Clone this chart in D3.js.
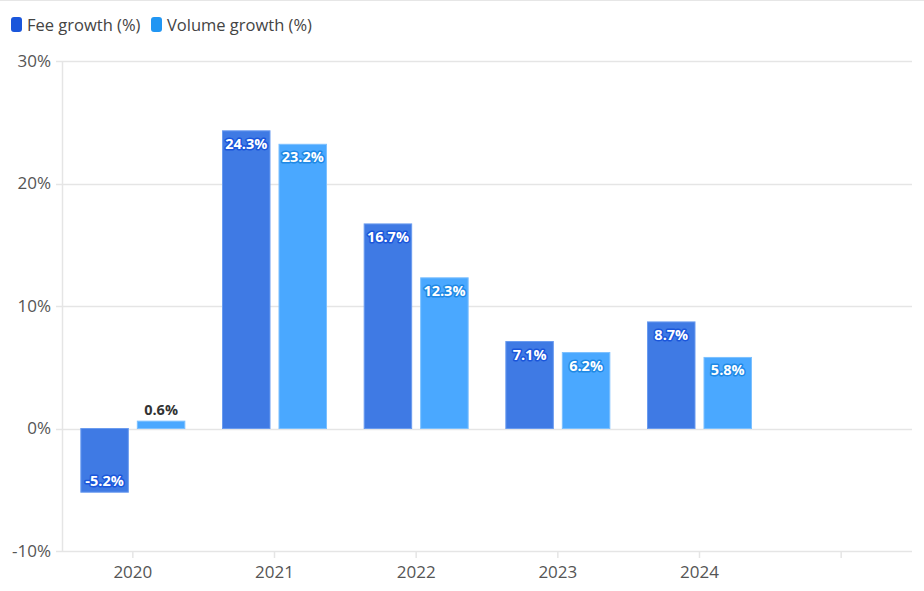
<!DOCTYPE html>
<html><head><meta charset="utf-8">
<script src="https://cdn.jsdelivr.net/npm/d3@7"></script>
<style>
body{margin:0;background:#fff;font-family:"Open Sans","Noto Sans",sans-serif;}
</style></head>
<body><svg id="c" width="924" height="591"></svg>
<script>
const categories = ["2020","2021","2022","2023","2024",""];
const seriesNames = ["Fee growth (%)","Volume growth (%)"];
const feeGrowth = [-5.2,24.3,16.7,7.1,8.7,null];
const volumeGrowth = [0.6,23.2,12.3,6.2,5.8,null];
const yTicks = [-10,0,10,20,30];

const fills = ["#3f7ae4","#4aa8ff"];
const strokes = ["#6a9bef","#7cc0ff"];
const legendFills = ["#1a56db","#2196f3"];
const halos = ["#1a56db","#1e88e5"];

const svg = d3.select("#c");
const m = {l:62,r:12,t:61,b:40};
const W = 924, H = 591;

svg.append("line").attr("x1",0).attr("x2",W).attr("y1",0.5).attr("y2",0.5).attr("stroke","#e6e6e6");

const x = d3.scaleBand().domain(categories.map((d,i)=>i)).range([m.l,W-m.r]).padding(0);
const xs = d3.scaleBand().domain([0,1]).range([0,x.bandwidth()]).paddingInner(0.1416).paddingOuter(0.3246);
const y = d3.scaleLinear().domain([-10,30]).range([551,61]);

// grid
svg.append("g").selectAll("line").data(yTicks).join("line")
  .attr("x1",m.l-6).attr("x2",W-m.r)
  .attr("y1",d=>Math.round(y(d))+0.5).attr("y2",d=>Math.round(y(d))+0.5)
  .attr("stroke","#e5e5e5").attr("stroke-width",1.5);
svg.append("line").attr("x1",m.l+0.5).attr("x2",m.l+0.5).attr("y1",y(30)).attr("y2",y(-10))
  .attr("stroke","#e5e5e5").attr("stroke-width",1.5);

svg.append("g").selectAll("text").data(yTicks).join("text")
  .attr("x",m.l-11).attr("y",d=>y(d)).attr("dy","0.35em").attr("text-anchor","end")
  .attr("font-size",17).attr("fill","#555").text(d=>d+"%");

// x ticks
svg.append("g").selectAll("line").data(categories.map((d,i)=>i)).join("line")
  .attr("x1",i=>x(i)+x.bandwidth()/2).attr("x2",i=>x(i)+x.bandwidth()/2)
  .attr("y1",551).attr("y2",558).attr("stroke","#e5e5e5").attr("stroke-width",1.5);
svg.append("g").selectAll("text").data(categories.map((d,i)=>i)).join("text")
  .attr("x",i=>x(i)+x.bandwidth()/2).attr("y",578).attr("text-anchor","middle")
  .attr("font-size",17).attr("fill","#555").text(i=>categories[i]);

const series = [feeGrowth, volumeGrowth];
series.forEach((vals,s)=>{
  const data = vals.map((v,i)=>({v,i})).filter(d=>d.v!==null);
  svg.append("g").selectAll("rect").data(data).join("rect")
    .attr("x",d=>x(d.i)+xs(s)+0.5).attr("width",xs.bandwidth()-1)
    .attr("y",d=>y(Math.max(0,d.v))).attr("height",d=>Math.abs(y(d.v)-y(0)))
    .attr("fill",fills[s]).attr("stroke",strokes[s]).attr("stroke-width",1);
  const g = svg.append("g");
  data.forEach(d=>{
    const cx = x(d.i)+xs(s)+xs.bandwidth()/2;
    const h = Math.abs(y(d.v)-y(0));
    const t = g.append("text").attr("x",cx).attr("text-anchor","middle")
      .attr("font-size",14.5).attr("font-weight","bold").text(d.v.toFixed(1)+"%");
    if (h < 22) {
      t.attr("y", y(Math.max(0,d.v)) - 6).attr("fill","#333");
    } else {
      t.attr("y", d.v>=0 ? y(d.v)+18 : y(d.v)-6).attr("fill","#fff")
       .attr("stroke",halos[s]).attr("stroke-width",3).attr("stroke-linejoin","round")
       .attr("paint-order","stroke");
    }
  });
});

// legend
const lg = svg.append("g");
const legendX = [11,151];
seriesNames.forEach((n,i)=>{
  lg.append("rect").attr("x",legendX[i]).attr("y",17).attr("width",11).attr("height",15).attr("rx",3)
    .attr("fill",legendFills[i]);
  lg.append("text").attr("x",legendX[i]+16).attr("y",30.5).attr("font-size",16.5).attr("fill","#444").text(n);
});
</script></body></html>
